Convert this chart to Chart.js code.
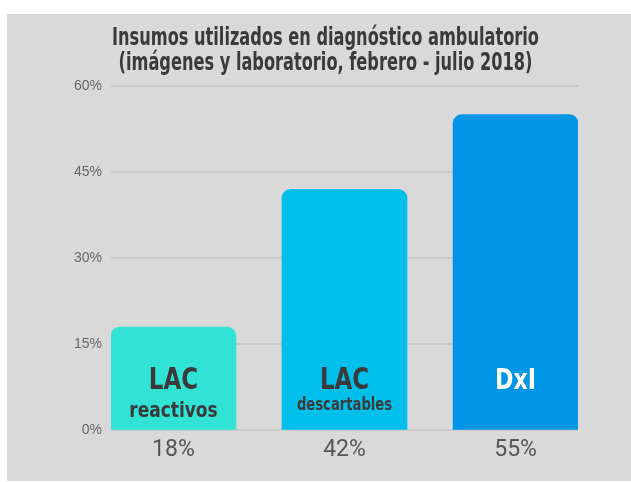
<!DOCTYPE html>
<html>
<head>
<meta charset="utf-8">
<script src="https://cdn.jsdelivr.net/npm/chart.js@4"></script>
<style>
  body { margin: 0; background: #ffffff; }
  #panel { position: absolute; left: 7px; top: 14px; width: 624px; height: 467px; background: #d9d9d9; }
</style>
</head>
<body>
<div id="panel"><canvas id="chart"></canvas></div>
<script>
// Chart data
const titleLines = ['Insumos utilizados en diagnóstico ambulatorio', '(imágenes y laboratorio, febrero - julio 2018)'];
const categories = ['18%', '42%', '55%'];       // labels under each bar
const values = [18, 42, 55];                     // percent
const barNames = ['LAC', 'LAC', 'DxI'];
const barSubNames = ['reactivos', 'descartables', ''];
const yTicks = [0, 15, 30, 45, 60];
const barColors = ['#30e3d5', '#00bfeb', '#0095e6'];
const nameColors = ['#3a3a3a', '#3a3a3a', '#ffffff'];

const NARROW = "'Liberation Sans Narrow', 'DejaVu Sans Condensed', 'Roboto', sans-serif";

// No narrow font installed, so squeeze the condensed one a bit
function drawNarrow(ctx, text, x, y, size, sx) {
  ctx.save();
  ctx.font = 'bold ' + size + 'px ' + NARROW;
  ctx.translate(x, y);
  ctx.scale(sx, 1);
  ctx.fillText(text, 0, 0);
  ctx.restore();
}

// Title and bar names
const textPlugin = {
  id: 'texts',
  afterDatasetsDraw(chart) {
    const ctx = chart.ctx;
    const bars = chart.getDatasetMeta(0).data;
    ctx.save();
    ctx.textAlign = 'center';
    ctx.textBaseline = 'alphabetic';
    bars.forEach((bar, i) => {
      ctx.fillStyle = nameColors[i];
      drawNarrow(ctx, barNames[i], bar.x, bar.base - 40, barSubNames[i] ? 30 : 29, 0.85);
      if (barSubNames[i]) {
        const small = barSubNames[i].length > 10;
        drawNarrow(ctx, barSubNames[i], bar.x, bar.base - (small ? 19 : 12), small ? 17 : 22, 0.86);
      }
    });
    // title, two lines
    ctx.fillStyle = '#3a3a3a';
    const cx = (chart.chartArea.left + chart.chartArea.right) / 2 - 19;
    titleLines.forEach((line, i) => {
      drawNarrow(ctx, line, cx, 31 + i * 25, 24, 0.75);
    });
    ctx.restore();
  }
};

new Chart(document.getElementById('chart'), {
  type: 'bar',
  data: {
    datasets: [{
      data: values.map((v, i) => ({ x: i, y: v })),
      backgroundColor: barColors,
      barThickness: 125,
      borderRadius: { topLeft: 9, topRight: 9, bottomLeft: 0, bottomRight: 0 },
      borderSkipped: false
    }]
  },
  options: {
    responsive: true,
    maintainAspectRatio: false,
    animation: false,
    layout: { padding: { left: 65, right: 53, top: 72, bottom: 11 } },
    plugins: {
      legend: { display: false },
      tooltip: { enabled: false },
      title: { display: false }
    },
    scales: {
      x: {
        type: 'linear',
        offset: false,
        min: -0.365,
        max: 2.365,
        afterBuildTicks: scale => { scale.ticks = categories.map((c, i) => ({ value: i })); },
        grid: { display: false, drawTicks: false },
        border: { display: false },
        ticks: {
          padding: 6,
          color: '#555555',
          font: { family: 'Roboto, sans-serif', size: 23 },
          callback: v => categories[v]
        }
      },
      y: {
        min: 0,
        max: 60,
        afterBuildTicks: scale => { scale.ticks = yTicks.map(v => ({ value: v })); },
        afterFit: scale => { scale.width = 39; },
        grid: { color: '#c9c9c9', lineWidth: 2, drawTicks: false },
        border: { display: false },
        ticks: {
          padding: 9,
          color: '#666666',
          font: { family: "'Liberation Sans', Arial, sans-serif", size: 14 },
          callback: v => v + '%'
        }
      }
    }
  },
  plugins: [textPlugin]
});
</script>
</body>
</html>
